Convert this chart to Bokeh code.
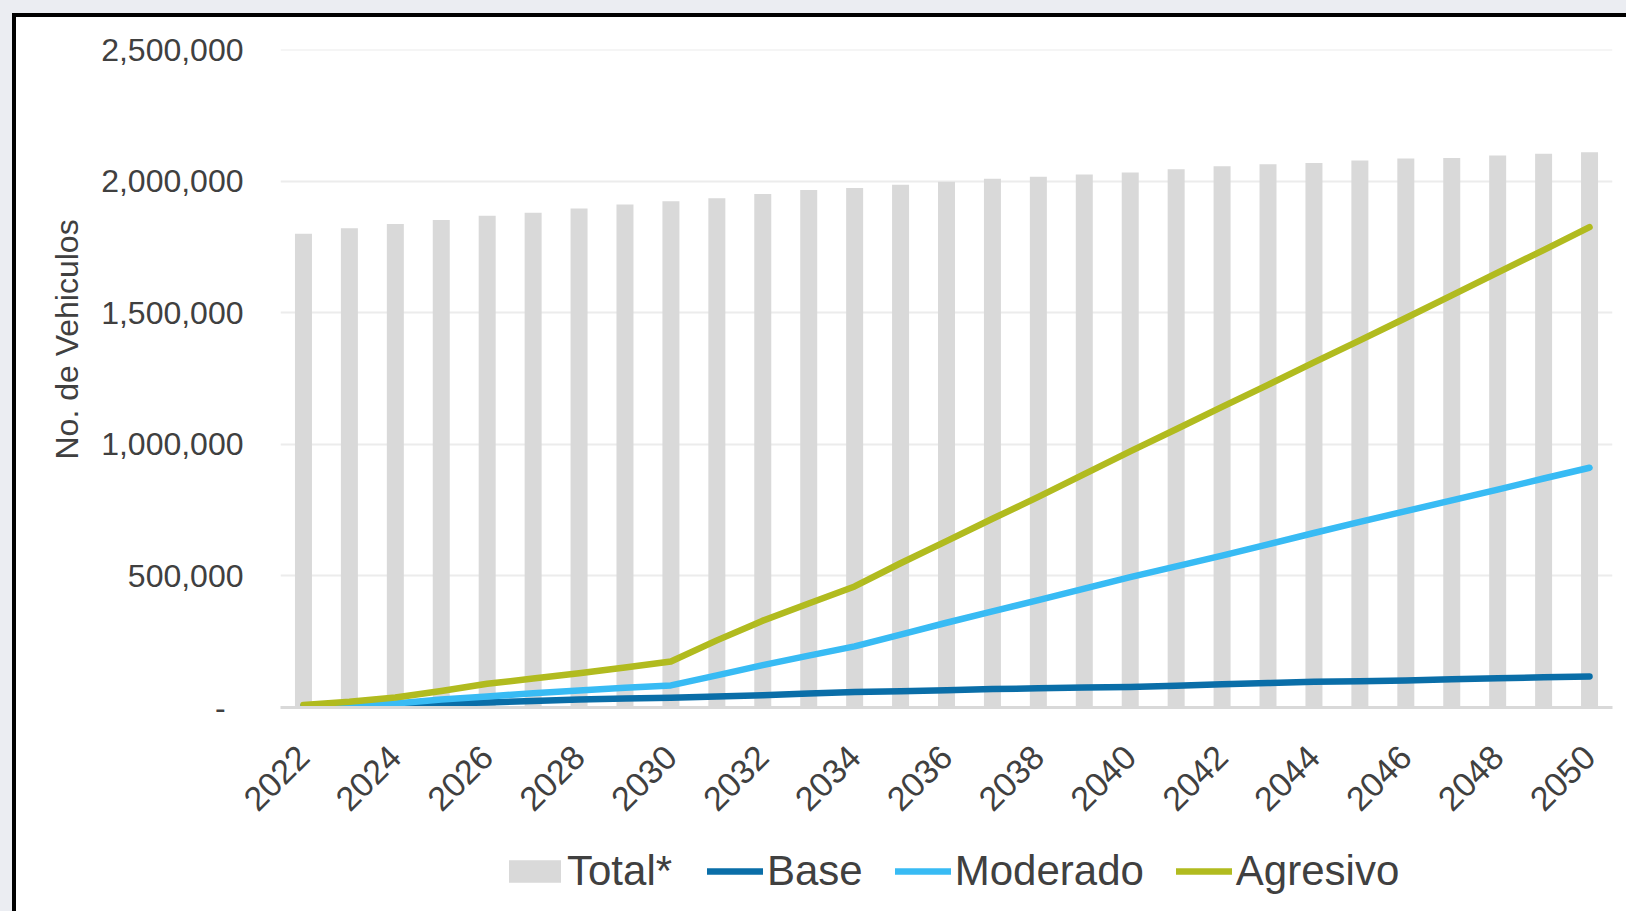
import math
from bokeh.plotting import figure
from bokeh.models import (FixedTicker, NumeralTickFormatter, Legend, LegendItem,
                          ColumnDataSource, Column, Title)
from bokeh.embed import file_html
from bokeh.resources import INLINE

years = list(range(2022, 2051))
total = [1800000, 1821000, 1837000, 1852000, 1868000, 1880000, 1896000, 1911000,
         1923000, 1935000, 1951000, 1966000, 1974000, 1986000, 1998000, 2009000,
         2017000, 2025000, 2033000, 2045000, 2056000, 2064000, 2069000, 2078000,
         2086000, 2088000, 2097000, 2104000, 2110000]
base = [5000, 7000, 10000, 15000, 19000, 25000, 30000, 34000, 37000, 42000, 47000,
        53000, 59000, 62000, 66000, 70000, 73000, 76000, 78000, 83000, 88000, 93000,
        98000, 100000, 103000, 107000, 111000, 115000, 118000]
moderado = [5000, 9000, 15000, 30000, 42000, 54000, 65000, 75000, 84000, 122000,
            161000, 197000, 232000, 277000, 322000, 365000, 408000, 452000, 495000,
            536000, 577000, 620000, 663000, 705000, 746000, 787000, 828000, 870000,
            911000]
agresivo = [10000, 22000, 38000, 63000, 90000, 110000, 130000, 152000, 175000,
            255000, 330000, 395000, 460000, 548000, 632000, 717000, 800000, 887000,
            973000, 1057000, 1142000, 1226000, 1311000, 1395000, 1480000, 1566000,
            1652000, 1738000, 1825000]
y_ticks = [0, 500000, 1000000, 1500000, 2000000, 2500000]
x_ticks = list(range(2022, 2051, 2))
series_names = ["Total*", "Base", "Moderado", "Agresivo"]
colors = ["#d9d9d9", "#0a6ea8", "#38bbf4", "#b1bb1f"]

FONT = "Liberation Sans"
TXT = "#404040"

src = ColumnDataSource(dict(year=years, total=total, base=base,
                            moderado=moderado, agresivo=agresivo))

p = figure(width=1610, height=820, x_range=(2021.5, 2050.5), y_range=(0, 2500000),
           output_backend="svg", toolbar_location=None,
           min_border_left=264, min_border_right=14, min_border_top=32,
           min_border_bottom=130)
p.outline_line_color = "white"
p.background_fill_color = "white"
p.border_fill_color = "white"
p.xgrid.grid_line_color = None
p.ygrid.grid_line_color = None

# horizontal gridlines at the y ticks
p.hspan(y=y_ticks[1:], line_color="#ececec", line_width=2)

bars = p.vbar(x="year", top="total", width=0.37, source=src,
              fill_color=colors[0], line_color=None)
lw = 6.5
p.line("year", "base", source=src, line_color=colors[1], line_width=lw,
       line_join="round", line_cap="round")
p.line("year", "moderado", source=src, line_color=colors[2], line_width=lw,
       line_join="round", line_cap="round")
p.line("year", "agresivo", source=src, line_color=colors[3], line_width=lw,
       line_join="round", line_cap="round")

ya = p.yaxis[0]
ya.ticker = FixedTicker(ticks=y_ticks)
ya.formatter = NumeralTickFormatter(format="0,0")
ya.major_label_overrides = {0: "-\u00a0\u00a0"}
ya.axis_line_color = None
ya.major_tick_line_color = None
ya.minor_tick_line_color = None
ya.major_tick_out = 0
ya.major_tick_in = 0
ya.major_label_standoff = 37
ya.major_label_text_font = FONT
ya.major_label_text_font_size = "32px"
ya.major_label_text_color = TXT

ytitle = Title(text="No. de Vehiculos", align="left", offset=248,
               text_font=FONT, text_font_size="32px", text_font_style="normal",
               text_color=TXT, standoff=27)
p.add_layout(ytitle, "left")

xa = p.xaxis[0]
xa.ticker = FixedTicker(ticks=x_ticks)
xa.axis_line_color = "#d9d9d9"
xa.axis_line_width = 3
xa.major_tick_line_color = None
xa.minor_tick_line_color = None
xa.major_tick_out = 0
xa.major_tick_in = 0
xa.major_label_standoff = 44
xa.major_label_orientation = math.pi / 4
xa.major_label_text_font = FONT
xa.major_label_text_font_size = "34px"
xa.major_label_text_color = TXT

# legend strip below the chart (its frame lines up with the chart's frame)
leg = figure(width=1610, height=74, x_range=(0, 1), y_range=(0, 1),
             output_backend="svg", toolbar_location=None,
             x_axis_type=None, y_axis_type=None, min_border=0)
leg.outline_line_color = "white"
leg.background_fill_color = "white"
leg.border_fill_color = "white"
leg.xgrid.grid_line_color = None
leg.ygrid.grid_line_color = None
# swatch renderers, kept outside the visible range
r_tot = leg.vbar(x=[-5], top=[-5], width=0.37, fill_color=colors[0], line_color=None)
r_base = leg.line(x=[-5, -4], y=[-5, -5], line_color=colors[1], line_width=lw,
                  line_cap="round")
r_mod = leg.line(x=[-5, -4], y=[-5, -5], line_color=colors[2], line_width=lw,
                 line_cap="round")
r_agr = leg.line(x=[-5, -4], y=[-5, -5], line_color=colors[3], line_width=lw,
                 line_cap="round")

def style(lg):
    lg.border_line_color = None
    lg.background_fill_alpha = 0
    lg.label_text_font = FONT
    lg.label_text_font_size = "42px"
    lg.label_text_color = TXT
    lg.padding = 0
    lg.margin = 0
    lg.orientation = "horizontal"

lg1 = Legend(items=[LegendItem(label=series_names[0], renderers=[r_tot])],
             location=(222, 16))
style(lg1)
lg1.glyph_width = 65
lg1.glyph_height = 28
lg1.label_standoff = 0

lg2 = Legend(items=[LegendItem(label=series_names[1], renderers=[r_base]),
                    LegendItem(label=series_names[2], renderers=[r_mod]),
                    LegendItem(label=series_names[3], renderers=[r_agr])],
             location=(427, 16))
style(lg2)
lg2.glyph_width = 56
lg2.glyph_height = 28
lg2.label_standoff = 4
lg2.spacing = 32
leg.add_layout(lg1, "center")
leg.add_layout(lg2, "center")

page = Column(children=[p, leg], margin=(4, 0, 0, 4),
              styles={"background-color": "white"})
frame_box = Column(children=[page], margin=(13, 0, 0, 12),
                   styles={"background-color": "black"})
outer = Column(children=[frame_box], width=1626, height=911,
               styles={"background-color": "#ebedf2", "overflow": "hidden"})

open("out.html", "w").write(file_html(outer, INLINE))
